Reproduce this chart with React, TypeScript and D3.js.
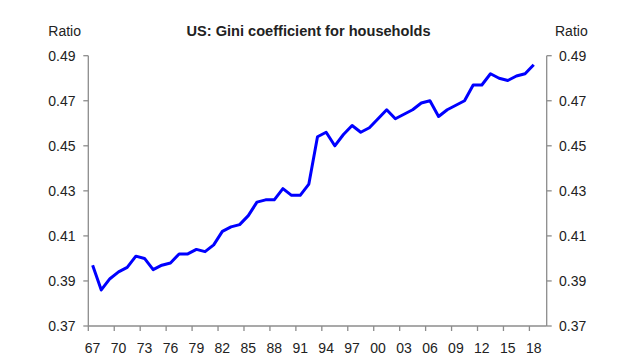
import React from "react";
import * as d3 from "d3";

const years: number[] = d3.range(1967, 2019);
const gini: number[] = [
  0.397, 0.386, 0.391, 0.394, 0.396, 0.401, 0.4, 0.395, 0.397, 0.398,
  0.402, 0.402, 0.404, 0.403, 0.406, 0.412, 0.414, 0.415, 0.419, 0.425,
  0.426, 0.426, 0.431, 0.428, 0.428, 0.433, 0.454, 0.456, 0.45, 0.455,
  0.459, 0.456, 0.458, 0.462, 0.466, 0.462, 0.464, 0.466, 0.469, 0.47,
  0.463, 0.466, 0.468, 0.47, 0.477, 0.477, 0.482, 0.48, 0.479, 0.481,
  0.482, 0.486,
];
const yTicks: number[] = [0.37, 0.39, 0.41, 0.43, 0.45, 0.47, 0.49];
const xTickYears: number[] = d3.range(1967, 2019, 3);
const title = "US: Gini coefficient for households";
const axisTitle = "Ratio";

export default function App() {
  const W = 640;
  const H = 360;
  const left = 88.3;
  const right = 546.7;
  const top = 55.7;
  const bottom = 326;
  const slots = d3.range(1967, 2020);
  const x = d3.scaleBand<number>().domain(slots).range([left, right]).padding(0);
  const y = d3.scaleLinear().domain([0.37, 0.49]).range([bottom, top]);
  const cx = (yr: number) => (x(yr) as number) + x.bandwidth() / 2;
  const line = d3
    .line<number>()
    .x((_, i) => cx(years[i]))
    .y((d) => y(d));
  const axisColor = "#8c8c8c";
  const textColor = "#222";
  const font = "Liberation Sans, Arial, sans-serif";
  return (
    <svg
      width={W}
      height={H}
      style={{ position: "absolute", left: 0, top: 0, background: "#fff" }}
      fontFamily={font}
    >
      <rect x={0} y={0} width={W} height={H} fill="#fff" />
      <text x={308.5} y={36} textAnchor="middle" fontSize={14.6} fontWeight="bold" fill={textColor}>
        {title}
      </text>
      <text x={48.3} y={36} fontSize={14} fill={textColor}>
        {axisTitle}
      </text>
      <text x={555} y={36} fontSize={14} fill={textColor}>
        {axisTitle}
      </text>
      {/* left axis */}
      <line x1={left} x2={left} y1={top} y2={bottom} stroke={axisColor} strokeWidth={1.3} />
      {yTicks.map((t) => (
        <g key={"l" + t}>
          <line x1={left - 5} x2={left} y1={y(t)} y2={y(t)} stroke={axisColor} strokeWidth={1.3} />
          <text x={75.5} y={y(t) + 5} textAnchor="end" fontSize={14} fill={textColor}>
            {t.toFixed(2)}
          </text>
        </g>
      ))}
      {/* right axis */}
      <line x1={right} x2={right} y1={top} y2={bottom} stroke={axisColor} strokeWidth={1.3} />
      {yTicks.map((t) => (
        <g key={"r" + t}>
          <line x1={right} x2={right + 5} y1={y(t)} y2={y(t)} stroke={axisColor} strokeWidth={1.3} />
          <text x={559} y={y(t) + 5} textAnchor="start" fontSize={14} fill={textColor}>
            {t.toFixed(2)}
          </text>
        </g>
      ))}
      {/* x axis */}
      <line x1={left} x2={right} y1={bottom} y2={bottom} stroke={axisColor} strokeWidth={1.3} />
      {xTickYears.map((yr) => (
        <g key={"x" + yr}>
          <line
            x1={x(yr) as number}
            x2={x(yr) as number}
            y1={bottom}
            y2={bottom + 5}
            stroke={axisColor}
            strokeWidth={1.3}
          />
          <text x={cx(yr)} y={353} textAnchor="middle" fontSize={14} fill={textColor}>
            {String(yr % 100).padStart(2, "0")}
          </text>
        </g>
      ))}
      <path d={line(gini) || ""} fill="none" stroke="#0000ff" strokeWidth={3} strokeLinejoin="round" />
    </svg>
  );
}
